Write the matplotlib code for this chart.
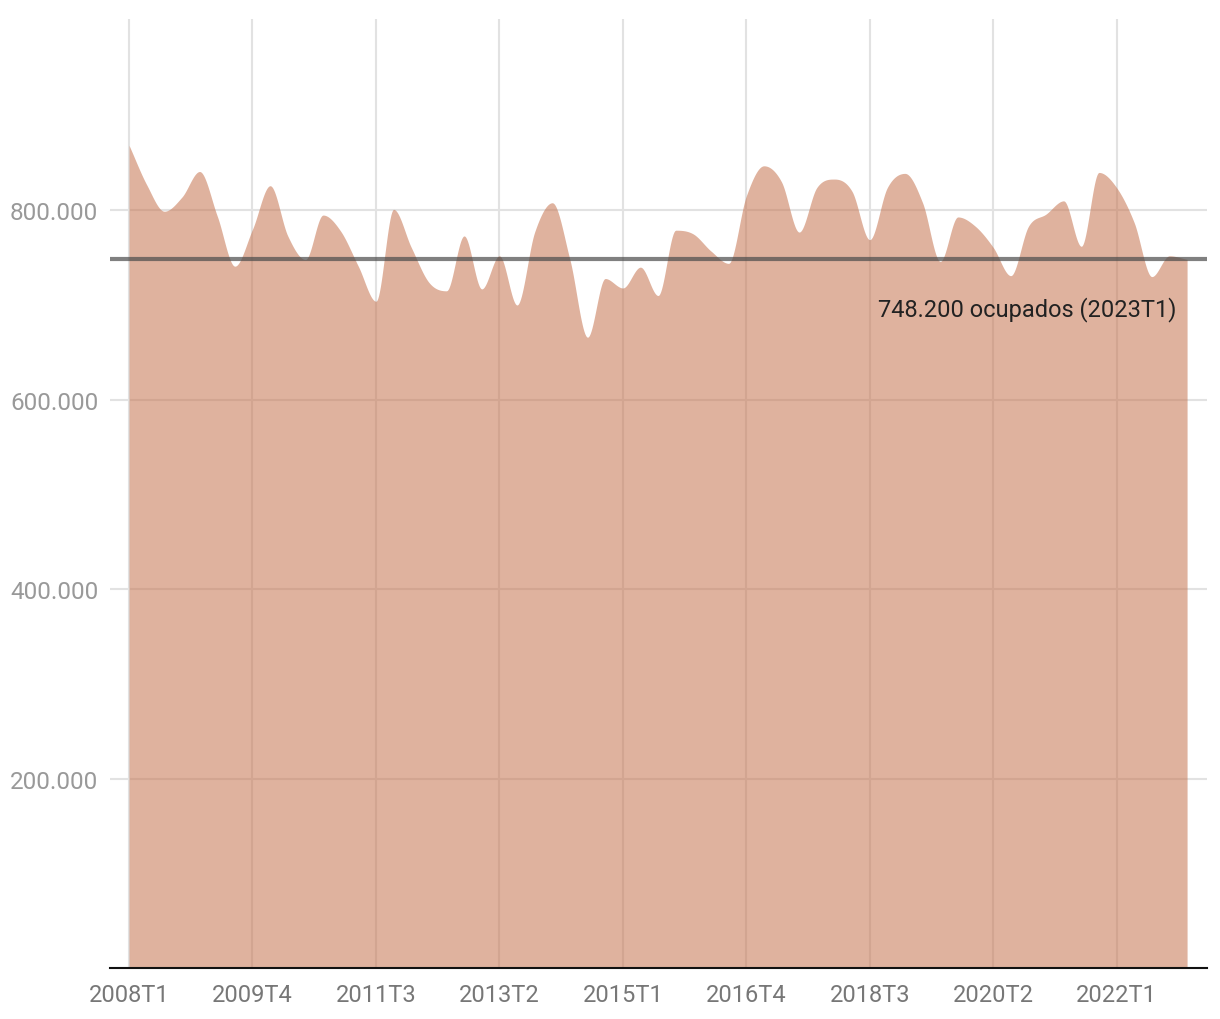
import numpy as np
import matplotlib
matplotlib.use("Agg")
import matplotlib.pyplot as plt

# ocupados por trimestre, 2008T1 .. 2023T1
years = list(range(2008, 2024))
quarters = [f"{y}T{q}" for y in years for q in range(1, 5)][:61]
ocupados = [868600, 827000, 799000, 814000, 841000, 794000, 741000, 780000,
            826000, 773000, 748000, 795000, 778000, 741000, 704000, 801000,
            761000, 724000, 715000, 773000, 717000, 752000, 700000, 777000,
            808000, 748000, 666000, 728000, 718000, 740000, 710000, 779000,
            775000, 757000, 744000, 815000, 847000, 830000, 777000, 824000,
            833000, 820000, 769000, 824000, 839000, 808000, 746000, 793000,
            783000, 761000, 731000, 783000, 796000, 810000, 762000, 840000,
            824000, 787000, 730000, 752000, 748200]
ultimo = 748200
yticks = [200000, 400000, 600000, 800000]
ytick_labels = ["200.000", "400.000", "600.000", "800.000"]
tick_every = 7


def monotone(x, y, n=20):
    # monotone cubic (Fritsch-Carlson), like d3 curveMonotoneX
    x = np.asarray(x, float)
    y = np.asarray(y, float)
    h = np.diff(x)
    d = np.diff(y) / h
    m = np.zeros_like(y)
    m[0], m[-1] = d[0], d[-1]
    for k in range(1, len(y) - 1):
        if d[k - 1] * d[k] <= 0:
            m[k] = 0
        else:
            m[k] = np.sign(d[k]) * min(abs(0.5 * (d[k - 1] + d[k])), 3 * abs(d[k - 1]), 3 * abs(d[k]))
    xs, ys = [], []
    for k in range(len(x) - 1):
        t = np.linspace(0, 1, n, endpoint=False)
        h00 = 2 * t**3 - 3 * t**2 + 1
        h10 = t**3 - 2 * t**2 + t
        h01 = -2 * t**3 + 3 * t**2
        h11 = t**3 - t**2
        xs.append(x[k] + t * h[k])
        ys.append(h00 * y[k] + h10 * h[k] * m[k] + h01 * y[k + 1] + h11 * h[k] * m[k + 1])
    xs.append([x[-1]])
    ys.append([y[-1]])
    return np.concatenate(xs), np.concatenate(ys)


plt.rcParams['font.family'] = ['Roboto', 'DejaVu Sans']

fig = plt.figure(figsize=(12.2, 10.2), dpi=100)
ax = fig.add_axes([110 / 1220, 51 / 1020, 1097 / 1220, 949 / 1020])

idx = np.arange(len(ocupados))
xs, ys = monotone(idx, ocupados)

ax.fill_between(xs, 0, ys, color=(197 / 255, 115 / 255, 79 / 255), alpha=0.55, lw=0, zorder=2)
ax.axhline(ultimo, color="#4a4a4a", alpha=0.7, lw=3, zorder=3)
ax.text(idx[-1] - 0.6, ultimo - 52000, f"748.200 ocupados ({quarters[-1]})",
        ha="right", va="center", fontsize=17, color="#222222", zorder=4)

ax.set_xlim(-1.08, 61.13)
ax.set_ylim(0, 1002000)

xt = idx[::tick_every]
ax.set_xticks(xt)
ax.set_xticklabels([quarters[i] for i in xt], fontsize=17, color="#777777")
ax.set_yticks(yticks)
ax.set_yticklabels(ytick_labels, fontsize=17.5, color="#999999")
ax.tick_params(axis="both", length=0)
ax.tick_params(axis="y", pad=8.5)
ax.tick_params(axis="x", pad=11)

ax.grid(True, color="#e2e2e2", lw=1.5, zorder=1)
ax.set_axisbelow(True)
for s in ["top", "right", "left"]:
    ax.spines[s].set_visible(False)
ax.spines["bottom"].set_color("#111111")
ax.spines["bottom"].set_linewidth(1.5)
ax.spines["bottom"].set_zorder(5)

fig.savefig("out.png", dpi=100)
